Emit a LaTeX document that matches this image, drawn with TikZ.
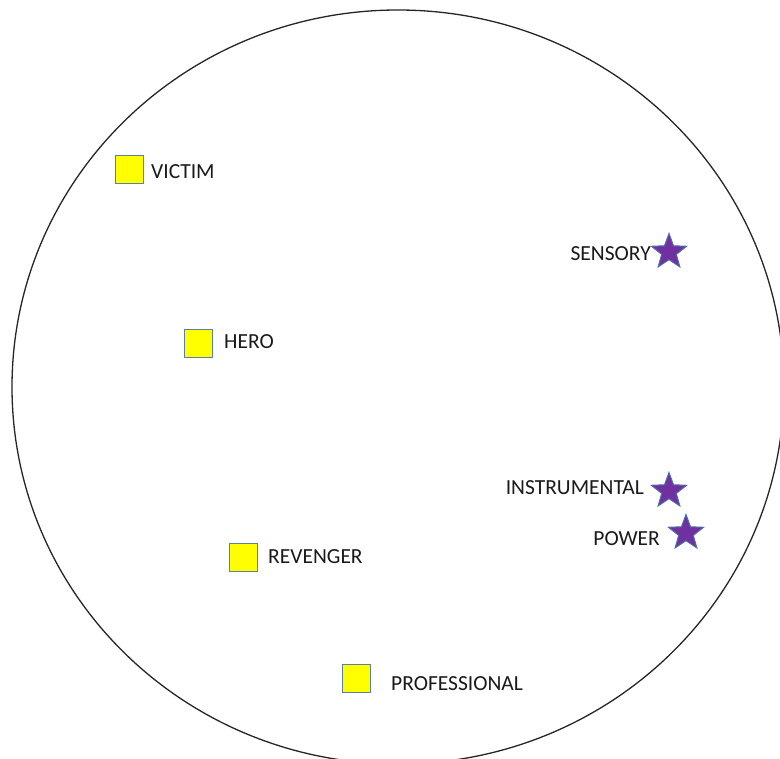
\documentclass[tikz,border=0pt]{standalone}
\usepackage{fontspec}
\setmainfont{Carlito}
\usetikzlibrary{shapes.geometric}
\definecolor{boxfill}{HTML}{FFFF00}
\definecolor{boxline}{HTML}{5B7FA6}
\definecolor{starfill}{HTML}{7030A0}
\definecolor{starline}{HTML}{4F6FA8}
\definecolor{labelcol}{HTML}{1A1A1A}
\tikzset{
  typebox/.style={draw=boxline, fill=boxfill, line width=1pt, minimum size=28pt, inner sep=0pt},
  typestar/.style={star, star points=5, star point ratio=2.4, draw=starline, fill=starfill,
    line width=1pt, minimum size=37pt, inner sep=0pt, shape border rotate=0},
  lbl/.style={inner sep=0pt, text=labelcol, font=\fontsize{21.5}{26}\selectfont},
}
\begin{document}
\begin{tikzpicture}[x=1pt,y=-1pt]
  \useasboundingbox (0,0) rectangle (780,759);
  \fill[white] (0,0) rectangle (780,759);
  % outer boundary
  \draw[line width=1.3pt, black!85] (398,387) ellipse [x radius=386, y radius=377];

  % square markers and their labels
  \node[typebox] (victim) at (129,170) {};
  \node[lbl, anchor=west] (victimlbl) at (151,172) {VICTIM};
  \node[typebox] (hero) at (198,344) {};
  \node[lbl, anchor=west] (herolbl) at (224,342) {HERO};
  \node[typebox] (revenger) at (243,557) {};
  \node[lbl, anchor=west] (revengerlbl) at (268,557) {REVENGER};
  \node[typebox] (professional) at (356,678) {};
  \node[lbl, anchor=west] (professionallbl) at (391,684) {PROFESSIONAL};

  % star markers and their labels
  \node[typestar] (sensory) at (669,252) {};
  \node[lbl, anchor=east] (sensorylbl) at (651,254) {SENSORY};
  \node[typestar] (instrumental) at (669,491) {};
  \node[lbl, anchor=east] (instrumentallbl) at (644,488) {INSTRUMENTAL};
  \node[typestar] (power) at (686,533) {};
  \node[lbl, anchor=east] (powerlbl) at (660,539) {POWER};
\end{tikzpicture}
\end{document}
